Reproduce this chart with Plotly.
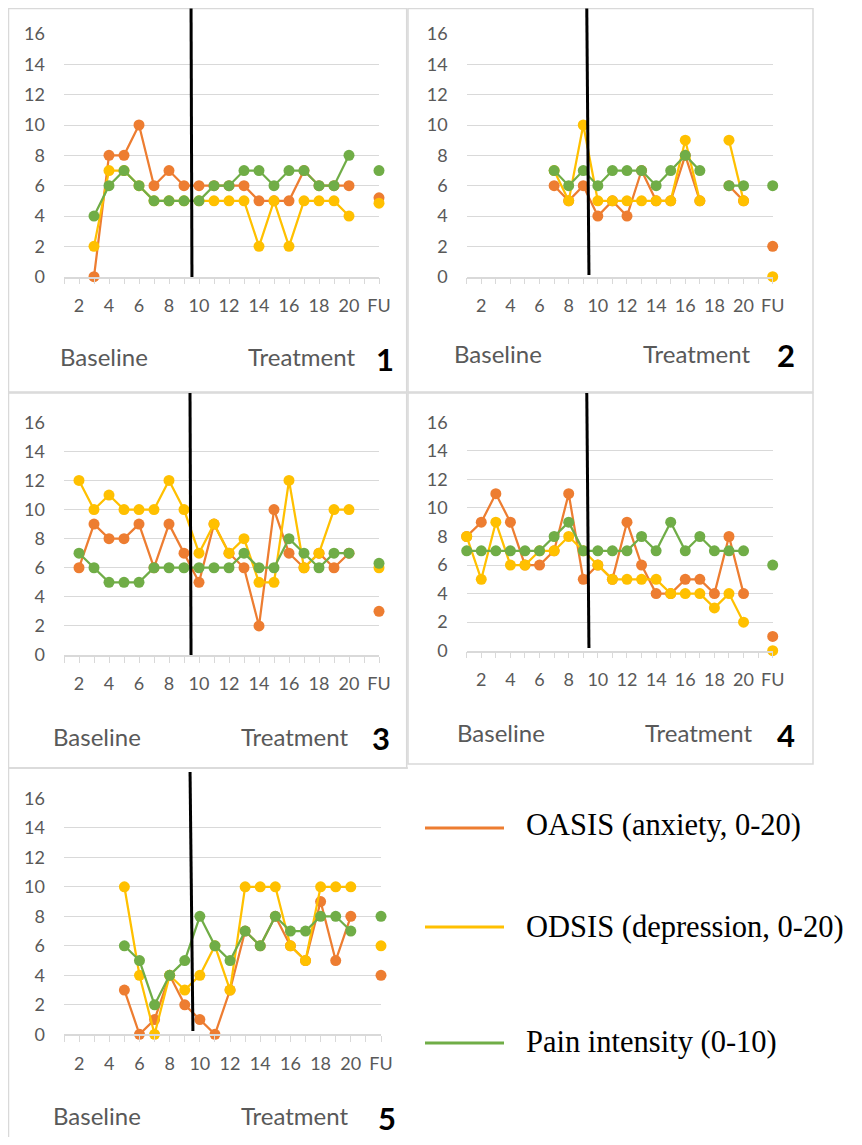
import plotly.graph_objects as go

# page body has an 8px margin: figure sized so that the page fits the window exactly
OFF = 8
W, H = 862 - 2 * OFF, 1145 - 2 * OFF

# ---------------- data ----------------
sessions = list(range(1, 23))          # 1..20 sessions, 21 blank, 22 = follow-up
tick_vals = [2, 4, 6, 8, 10, 12, 14, 16, 18, 20, 22]
tick_text = ["2", "4", "6", "8", "10", "12", "14", "16", "18", "20", "FU"]
y_ticks = [0, 2, 4, 6, 8, 10, 12, 14, 16]

series_names = ["OASIS (anxiety, 0-20)", "ODSIS (depression, 0-20)", "Pain intensity (0-10)"]
series_colors = ["#ED7D31", "#FFC000", "#70AD47"]

oasis1 = [None, None, 0, 8, 8, 10, 6, 7, 6, 6, 6, 6, 6, 5, 5, 5, 7, 6, 6, 6, None, 5.2]
odsis1 = [None, None, 2, 7, 7, 6, 5, 5, 5, 5, 5, 5, 5, 2, 5, 2, 5, 5, 5, 4, None, 4.85]
pain1 = [None, None, 4, 6, 7, 6, 5, 5, 5, 5, 6, 6, 7, 7, 6, 7, 7, 6, 6, 8, None, 7]

oasis2 = [None, None, None, None, None, None, 6, 5, 6, 4, 5, 4, 7, 5, 5, 8, 5, None, 6, 5, None, 2]
odsis2 = [None, None, None, None, None, None, 7, 5, 10, 5, 5, 5, 5, 5, 5, 9, 5, None, 9, 5, None, 0]
pain2 = [None, None, None, None, None, None, 7, 6, 7, 6, 7, 7, 7, 6, 7, 8, 7, None, 6, 6, None, 6]

oasis3 = [None, 6, 9, 8, 8, 9, 6, 9, 7, 5, 9, 7, 6, 2, 10, 7, 6, 7, 6, 7, None, 3]
odsis3 = [None, 12, 10, 11, 10, 10, 10, 12, 10, 7, 9, 7, 8, 5, 5, 12, 6, 7, 10, 10, None, 6]
pain3 = [None, 7, 6, 5, 5, 5, 6, 6, 6, 6, 6, 6, 7, 6, 6, 8, 7, 6, 7, 7, None, 6.3]

oasis4 = [8, 9, 11, 9, 6, 6, 7, 11, 5, 6, 5, 9, 6, 4, 4, 5, 5, 4, 8, 4, None, 1]
odsis4 = [8, 5, 9, 6, 6, 7, 7, 8, 7, 6, 5, 5, 5, 5, 4, 4, 4, 3, 4, 2, None, 0]
pain4 = [7, 7, 7, 7, 7, 7, 8, 9, 7, 7, 7, 7, 8, 7, 9, 7, 8, 7, 7, 7, None, 6]

oasis5 = [None, None, None, None, 3, 0, 1, 4, 2, 1, 0, 3, 7, 6, 8, 6, 5, 9, 5, 8, None, 4]
odsis5 = [None, None, None, None, 10, 4, 0, 4, 3, 4, 6, 3, 10, 10, 10, 6, 5, 10, 10, 10, None, 6]
pain5 = [None, None, None, None, 6, 5, 2, 4, 5, 8, 6, 5, 7, 6, 8, 7, 7, 8, 8, 7, None, 8]

panel_labels = ["1", "2", "3", "4", "5"]
panel_data = [
    (oasis1, odsis1, pain1),
    (oasis2, odsis2, pain2),
    (oasis3, odsis3, pain3),
    (oasis4, odsis4, pain4),
    (oasis5, odsis5, pain5),
]
phase_change = [(9.47, 9.53), (9.24, 9.39), (9.40, 9.47), (9.24, 9.39), (9.35, 9.54)]

# ---------------- layout geometry (window pixels) ----------------
areas = [
    (64, 379, 34, 276.7),
    (466.7, 772.7, 34, 276.7),
    (64, 379, 422.3, 655),
    (466.7, 772.7, 422.3, 650.7),
    (64, 381, 798.3, 1034.3),
]
vline_y = [(8.5, 277), (8.5, 275), (393, 655), (393, 648), (772, 1031)]
texts = [
    (104, 301.7, 356, 385, 359),
    (498, 696, 353, 786, 355),
    (97, 294.5, 736, 381, 738),
    (501, 698, 732, 785.5, 735),
    (97, 294, 1115, 386.7, 1118),
]

def px(x):
    return (x - OFF) / W

def py(y):
    return 1 - (y - OFF) / H

fig = go.Figure()
GRID = "#d9d9d9"
TXT = "#595959"
FONT = "Lato, Calibri, Carlito, sans-serif"

shapes = []
annotations = []

for i, (data, area) in enumerate(zip(panel_data, areas)):
    n = i + 1
    xa = "x" if n == 1 else f"x{n}"
    ya = "y" if n == 1 else f"y{n}"
    for name, vals, col in zip(series_names, data, series_colors):
        fig.add_trace(go.Scatter(
            x=sessions, y=vals, mode="lines+markers", name=name,
            line=dict(color=col, width=2.25),
            marker=dict(color=col, size=11),
            connectgaps=False, cliponaxis=False, showlegend=False,
            xaxis=xa, yaxis=ya,
        ))
    xl, xr, yt, yb = area
    fig.update_layout(**{
        ("xaxis" if n == 1 else f"xaxis{n}"): dict(
            domain=[px(xl), px(xr)], range=[1, 22], anchor=ya, automargin=False,
            tickmode="array", tickvals=tick_vals, ticktext=tick_text,
            ticks="outside", ticklen=6, tickcolor=GRID, tickwidth=1.3,
            showline=True, linecolor=GRID, linewidth=1.5,
            showgrid=False, zeroline=False,
            tickfont=dict(family=FONT, size=18, color=TXT),
            ticklabelstandoff=6,
            minor=dict(dtick=1, tick0=1, ticks="outside", ticklen=6,
                       tickcolor=GRID, tickwidth=1.3, showgrid=False),
        ),
        ("yaxis" if n == 1 else f"yaxis{n}"): dict(
            domain=[py(yb), py(yt)], range=[0, 16], anchor=xa, automargin=False,
            tickmode="array", tickvals=y_ticks,
            showgrid=True, gridcolor=GRID, gridwidth=1.3,
            zeroline=False, showline=False, ticks="",
            tickfont=dict(family=FONT, size=18, color=TXT),
            ticklabelstandoff=18,
        ),
    })
    x_top, x_bot = phase_change[i]
    y_top, y_bot = vline_y[i]
    shapes.append(dict(type="line", xref=xa, yref="paper",
                       x0=x_top, x1=x_bot, y0=py(y_top), y1=py(y_bot),
                       line=dict(color="black", width=3)))
    bx, tx, ty, nx, ny = texts[i]
    annotations.append(dict(text="Baseline", x=px(bx), y=py(ty), xref="paper", yref="paper",
                            showarrow=False, xanchor="center", yanchor="middle",
                            font=dict(family=FONT, size=24, color=TXT)))
    annotations.append(dict(text="Treatment", x=px(tx), y=py(ty), xref="paper", yref="paper",
                            showarrow=False, xanchor="center", yanchor="middle",
                            font=dict(family=FONT, size=24, color=TXT)))
    annotations.append(dict(text="<b>" + panel_labels[i] + "</b>", x=px(nx), y=py(ny),
                            xref="paper", yref="paper",
                            showarrow=False, xanchor="center", yanchor="middle",
                            font=dict(family=FONT, size=31, color="black")))

# panel frames
frames = [(8.5, 406.7, 8.5, 392), (408, 813, 8.5, 392), (8.5, 406.7, 393, 768), (408, 813, 393, 764)]
for x0, x1, y0, y1 in frames:
    shapes.append(dict(type="rect", xref="paper", yref="paper",
                       x0=px(x0), x1=px(x1), y0=py(y1), y1=py(y0),
                       line=dict(color=GRID, width=1.5), layer="below"))
shapes.append(dict(type="line", xref="paper", yref="paper", x0=px(8.5), x1=px(408),
                   y0=py(768), y1=py(768), line=dict(color=GRID, width=1.5)))
shapes.append(dict(type="line", xref="paper", yref="paper", x0=px(8.5), x1=px(8.5),
                   y0=py(768), y1=py(1137), line=dict(color=GRID, width=1.5)))

# legend (custom)
leg_line_y = [828, 927, 1043]
leg_text_y = [825, 927, 1042]
for name, col, ly, ty in zip(series_names, series_colors, leg_line_y, leg_text_y):
    shapes.append(dict(type="line", xref="paper", yref="paper",
                       x0=px(425), x1=px(504), y0=py(ly), y1=py(ly),
                       line=dict(color=col, width=3)))
    annotations.append(dict(text=name, x=px(524), y=py(ty), xref="paper", yref="paper",
                            showarrow=False, xanchor="left", yanchor="middle",
                            font=dict(family="Liberation Serif, Times New Roman, serif",
                                      size=30.5, color="black")))

fig.update_layout(
    width=W, height=H, margin=dict(l=0, r=0, t=0, b=0, autoexpand=False),
    paper_bgcolor="white", plot_bgcolor="white",
    showlegend=False, shapes=shapes, annotations=annotations,
)

fig.write_html("out.html")
